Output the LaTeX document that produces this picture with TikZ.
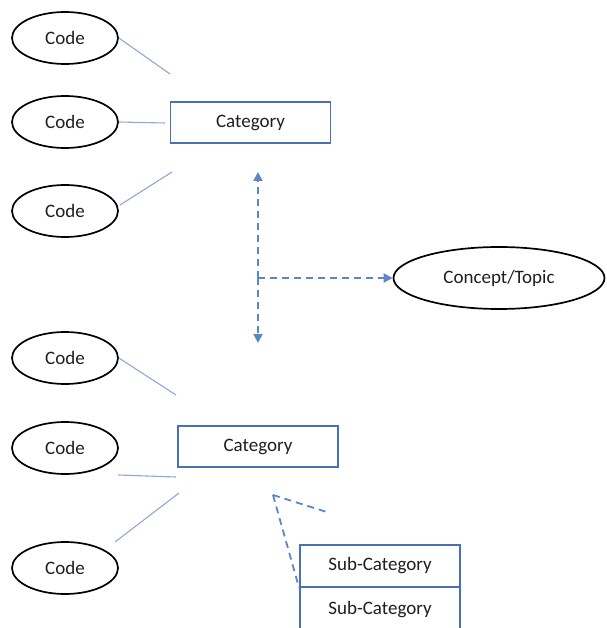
\documentclass[tikz,border=0pt]{standalone}
\usepackage{fontspec}
\setmainfont{Carlito}
\usetikzlibrary{shapes.geometric,arrows.meta}
\definecolor{boxblue}{HTML}{4A6FB5}
\definecolor{dashblue}{HTML}{5B86C8}
\definecolor{linkblue}{HTML}{8FA8D6}
\definecolor{ink}{HTML}{1E1E1E}

\begin{document}
\begin{tikzpicture}
[x=1pt, y=-1pt,
 font=\fontsize{19}{22}\selectfont, text=ink,
 code/.style={draw, ellipse, line width=1.7pt, inner sep=0pt,
              minimum width=106pt, minimum height=52pt},
 topic/.style={code, minimum width=211pt, minimum height=62pt},
 cat/.style={draw=boxblue, rectangle, line width=1.8pt,
             minimum width=160pt, minimum height=41pt},
 link/.style={draw=linkblue, line width=1.1pt},
 rel/.style={draw=dashblue, line width=1.8pt, dash pattern=on 7pt off 5pt},
 tip/.style={-{Triangle[width=9pt,length=9pt]}}]
\useasboundingbox (0,0) rectangle (606,628);

% upper group
\node (c1) at (65,38) [code] {Code};
\node (c2) at (65,122) [code] {Code};
\node (c3) at (65,211) [code] {Code};
\node (cat1) at (250.5,122.5) [cat] {Category};

\coordinate (l1) at (170,74);
\coordinate (l2) at (165,123);
\coordinate (l3) at (172,172);
\draw[link] (c1.east) to (l1);
\draw[link] (c2.east) to (l2);
\draw[link] (120,205) to (l3);

% relation arrows
\node (topic) at (499,278) [topic] {Concept/Topic};
\coordinate (up) at (258,172);
\coordinate (down) at (258,343);
\coordinate (mid) at (258,278);
\draw[rel,tip] (mid) to (up);
\draw[rel,tip] (mid) to (down);
\draw[rel,tip] (mid) to (topic.west);

% lower group
\node (c4) at (65,358) [code] {Code};
\node (c5) at (65,448) [code] {Code};
\node (c6) at (65,568) [code] {Code};
\node (cat2) at (258,446.5) [cat] {Category};

\coordinate (l4) at (176,395);
\coordinate (l5) at (176,477);
\coordinate (l6) at (179,493);
\draw[link] (c4.east) to (l4);
\draw[link] (118,475) to (l5);
\draw[link] (115,542) to (l6);

\node (sub1) at (380,566) [cat, minimum height=42pt] {Sub-Category};
\node (sub2) at (380,610) [cat, minimum height=46pt] {Sub-Category};

\coordinate (apex) at (273,495);
\coordinate (open) at (330,513);
\draw[rel] (apex) to (open);
\draw[rel] (apex) to (sub1.south west);
\end{tikzpicture}
\end{document}
